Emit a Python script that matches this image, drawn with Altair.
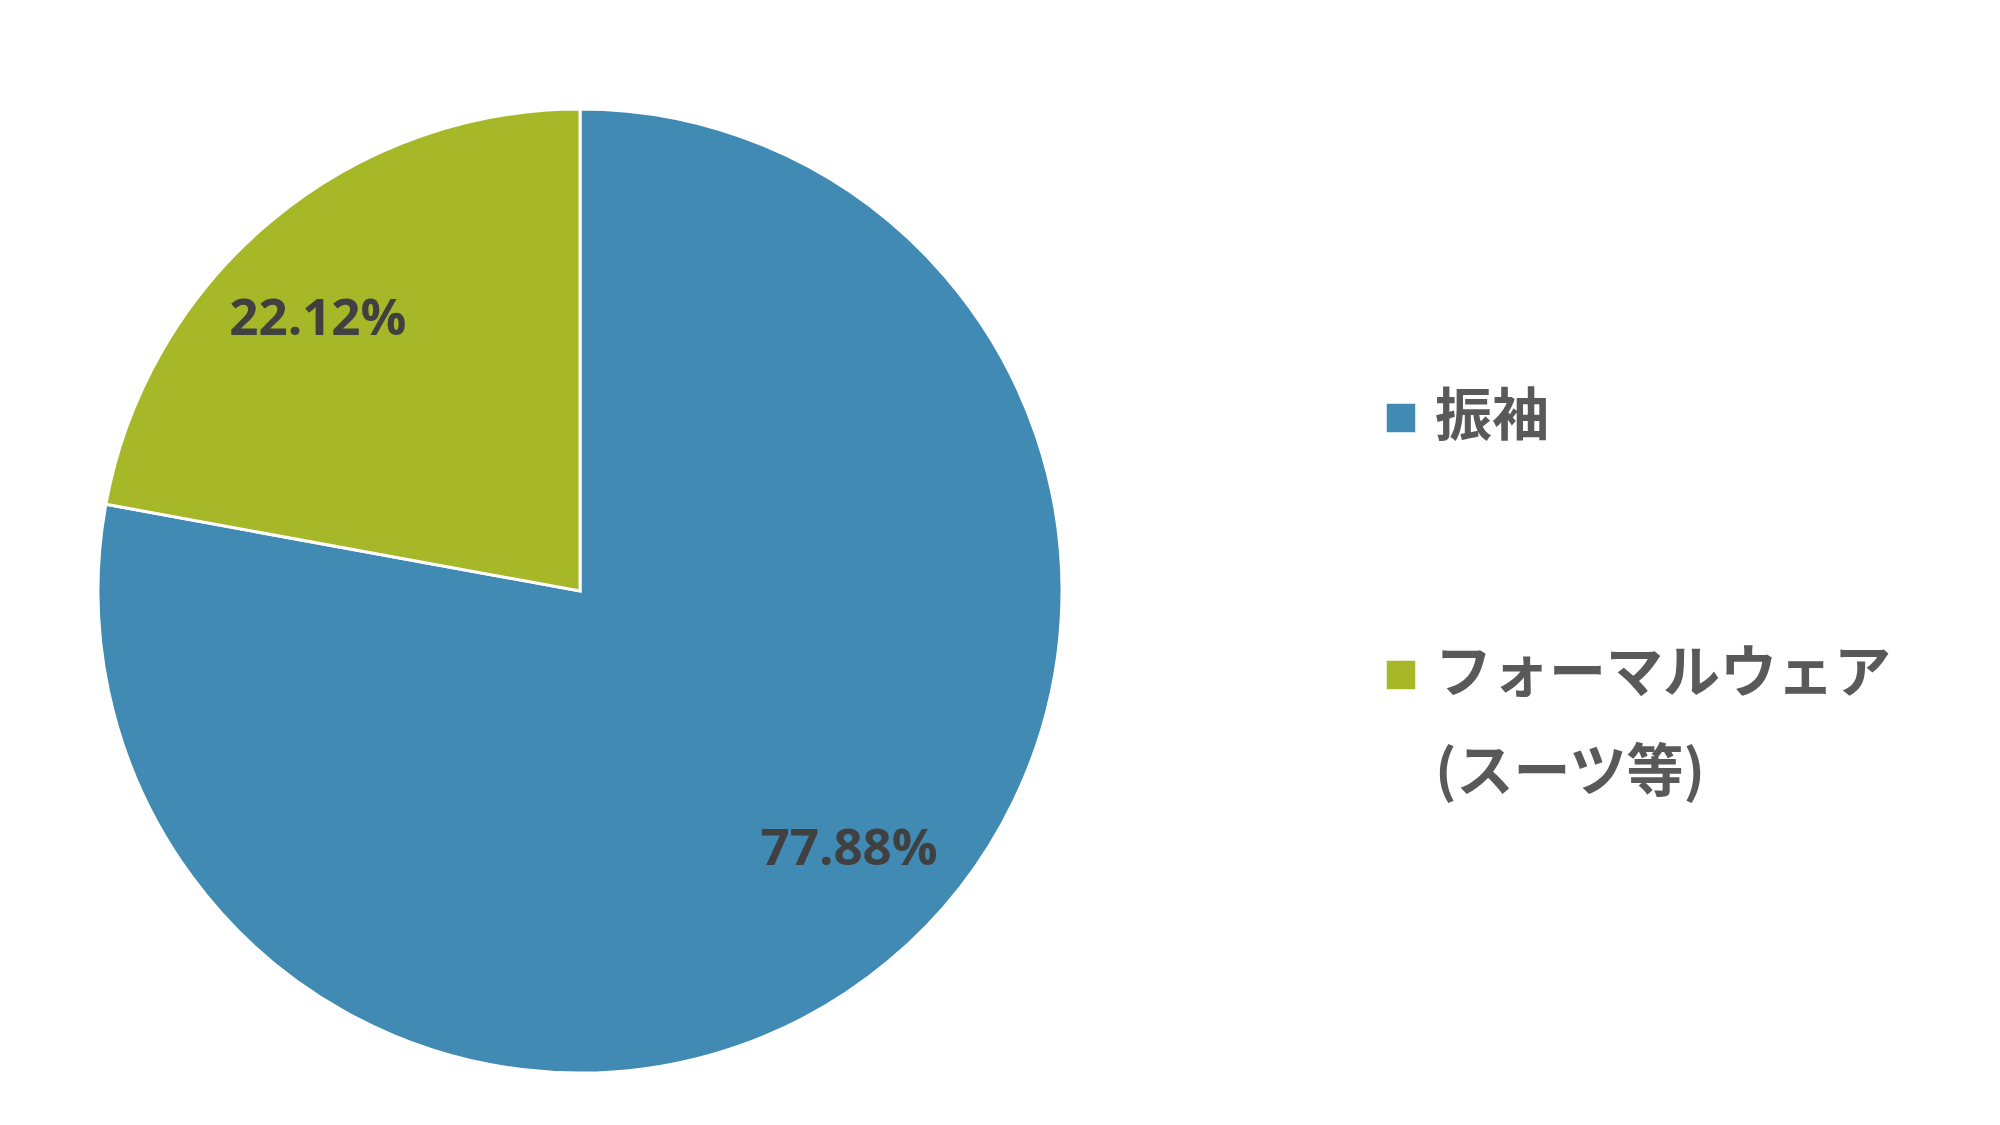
import altair as alt
import pandas as pd

categories = ["振袖", "フォーマルウェア(スーツ等)"]
values = [77.88, 22.12]
colors = ["#418AB3", "#A6B828"]
legend_line1 = ["振袖", "フォーマルウェア"]
legend_line2 = ["", "(スーツ等)"]

df = pd.DataFrame({"cat": categories, "value": values, "idx": list(range(len(categories)))})
df["end"] = df["value"].cumsum()
df["start"] = df["end"] - df["value"]
df["mid"] = (df["start"] + df["end"]) / 2
df["label"] = [f"{v:.2f}%" for v in values]

leg = pd.DataFrame({"cat": categories, "l1": legend_line1, "l2": legend_line2})

CX, CY, R = 572, 583, 482

color = alt.Color("cat:N", scale=alt.Scale(domain=categories, range=colors), legend=None)

base = alt.Chart(df)
arcs = base.mark_arc(radius=R, stroke="white", strokeWidth=3).encode(
    theta=alt.Theta("start:Q", scale=alt.Scale(domain=[0, 100])),
    theta2="end:Q",
    color=color,
    x=alt.value(CX), y=alt.value(CY),
)

def pct_label(cat, dx, dy):
    return base.transform_filter(alt.datum.cat == cat).mark_text(
        radius=375, dx=dx, dy=dy, font="Open Sans", fontWeight="bold", fontSize=51,
        color="#404040", align="center", baseline="middle",
    ).encode(theta="mid:Q", text="label:N", x=alt.value(CX), y=alt.value(CY))

lab1 = pct_label(categories[0], 29, -29)
lab2 = pct_label(categories[1], -22, 17)

ypos = alt.Y("cat:N", scale=alt.Scale(type="point", domain=categories, range=[410, 667], padding=0), axis=None)
lbase = alt.Chart(leg)
squares = lbase.mark_square(size=810, opacity=1).encode(x=alt.value(1393), y=ypos, color=color)
t1 = lbase.mark_text(align="left", baseline="middle", font="Noto Sans CJK JP", fontWeight="bold",
                     fontSize=57, color="#595959", dy=0).encode(x=alt.value(1427), y=ypos, text="l1:N")
t2 = lbase.mark_text(align="left", baseline="middle", font="Noto Sans CJK JP", fontWeight="bold",
                     fontSize=57, color="#595959", dy=99).encode(x=alt.value(1427), y=ypos, text="l2:N")

chart = alt.layer(arcs, lab1, lab2, squares, t1, t2).properties(
    width=1984, height=1100, autosize=alt.AutoSizeParams(type="none"), padding=0,
    background="white",
).configure_view(stroke=None)

chart.save("out.html", embed_options={"renderer": "svg", "actions": False})
